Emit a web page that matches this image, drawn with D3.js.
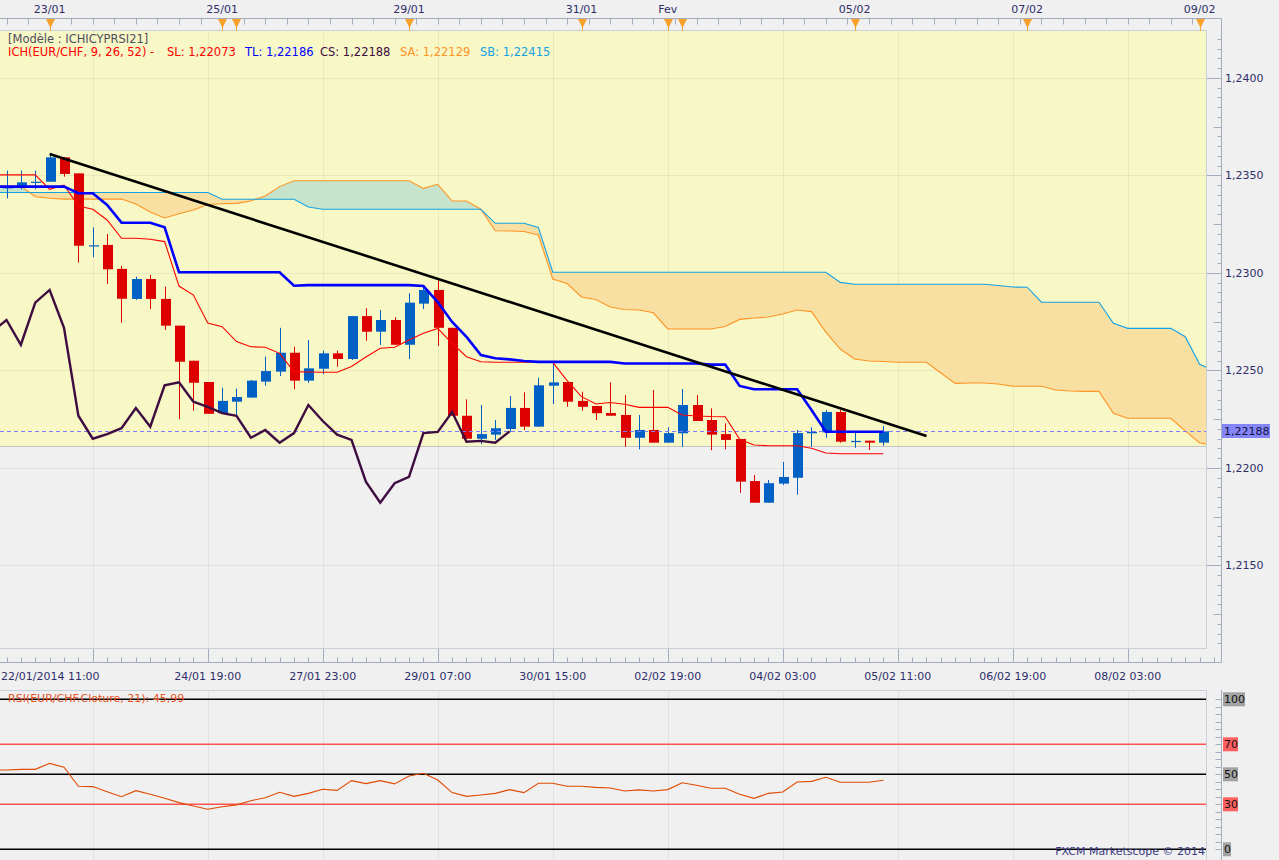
<!DOCTYPE html>
<meta charset="utf-8">
<style>
  body { margin: 0; background: #f0f0f0; overflow: hidden; }
  svg text { font-family: "DejaVu Sans", Verdana, sans-serif; }
</style>
<body>
<script src="https://d3js.org/d3.v7.min.js"></script>
<div id="chart"></div>
<script>

// EUR/CHF, 4 hour bars. bar 0 = 22/01/2014 11:00, bar 61 = 05/02 07:00
var opens  = [1.23437, 1.23443, 1.23466, 1.23468, 1.23593, 1.23511, 1.23140, 1.23144, 1.23021, 1.22867,
              1.22969, 1.22867, 1.22730, 1.22550, 1.22441, 1.22281, 1.22340, 1.22361, 1.22443, 1.22494,
              1.22591, 1.22448, 1.22509, 1.22588, 1.22559, 1.22779, 1.22699, 1.22759, 1.22632, 1.22843,
              1.22913, 1.22719, 1.22268, 1.22150, 1.22171, 1.22200, 1.22308, 1.22212, 1.22422, 1.22441,
              1.22344, 1.22318, 1.22282, 1.22272, 1.22155, 1.22195, 1.22130, 1.22178, 1.22323, 1.22246,
              1.22174, 1.22149, 1.21933, 1.21822, 1.21920, 1.21950, 1.22178, 1.22183, 1.22287, 1.22137,
              1.22140, 1.22130];
var highs  = [1.23525, 1.23525, 1.23525, 1.23610, 1.23593, 1.23511, 1.23234, 1.23200, 1.23036, 1.22981,
              1.22990, 1.22930, 1.22730, 1.22550, 1.22441, 1.22412, 1.22407, 1.22451, 1.22571, 1.22719,
              1.22622, 1.22656, 1.22602, 1.22602, 1.22779, 1.22819, 1.22810, 1.22773, 1.22896, 1.22933,
              1.22968, 1.22719, 1.22352, 1.22323, 1.22246, 1.22369, 1.22388, 1.22463, 1.22545, 1.22441,
              1.22391, 1.22318, 1.22439, 1.22374, 1.22272, 1.22400, 1.22209, 1.22405, 1.22374, 1.22306,
              1.22229, 1.22149, 1.21964, 1.21938, 1.22031, 1.22195, 1.22209, 1.22297, 1.22297, 1.22190,
              1.22140, 1.22215];
var lows   = [1.23383, 1.23429, 1.23429, 1.23468, 1.23494, 1.23053, 1.23081, 1.22944, 1.22745, 1.22862,
              1.22815, 1.22708, 1.22250, 1.22294, 1.22278, 1.22281, 1.22272, 1.22361, 1.22422, 1.22472,
              1.22404, 1.22436, 1.22481, 1.22519, 1.22554, 1.22653, 1.22631, 1.22632, 1.22559, 1.22815,
              1.22626, 1.22268, 1.22150, 1.22122, 1.22144, 1.22186, 1.22195, 1.22212, 1.22328, 1.22314,
              1.22294, 1.22246, 1.22268, 1.22109, 1.22096, 1.22130, 1.22130, 1.22109, 1.22241, 1.22091,
              1.22096, 1.21873, 1.21822, 1.21822, 1.21913, 1.21863, 1.22109, 1.22155, 1.22130, 1.22104,
              1.22092, 1.22114];
var closes = [1.23440, 1.23465, 1.23468, 1.23593, 1.23508, 1.23140, 1.23142, 1.23019, 1.22868, 1.22969,
              1.22867, 1.22730, 1.22545, 1.22437, 1.22278, 1.22344, 1.22364, 1.22448, 1.22497, 1.22591,
              1.22448, 1.22511, 1.22588, 1.22559, 1.22779, 1.22699, 1.22759, 1.22632, 1.22848, 1.22913,
              1.22719, 1.22268, 1.22150, 1.22174, 1.22204, 1.22308, 1.22212, 1.22424, 1.22439, 1.22340,
              1.22314, 1.22281, 1.22268, 1.22155, 1.22195, 1.22130, 1.22179, 1.22323, 1.22241, 1.22171,
              1.22144, 1.21930, 1.21822, 1.21922, 1.21954, 1.22179, 1.22185, 1.22287, 1.22135, 1.22139,
              1.22130, 1.22188];

// Ichimoku lines, one value per bar
var slValues = [1.23503, 1.23503, 1.23503, 1.23429, 1.23451, 1.23344, 1.23327, 1.23272, 1.23178, 1.23178,
                1.23173, 1.23161, 1.22933, 1.22887, 1.22744, 1.22725, 1.22648, 1.22622, 1.22619, 1.22588,
                1.22494, 1.22492, 1.22491, 1.22491, 1.22521, 1.22569, 1.22614, 1.22619, 1.22656, 1.22691,
                1.22716, 1.22639, 1.22571, 1.22545, 1.22542, 1.22542, 1.22542, 1.22542, 1.22542, 1.22448,
                1.22366, 1.22328, 1.22336, 1.22327, 1.22311, 1.22311, 1.22311, 1.22272, 1.22267, 1.22264,
                1.22263, 1.22147, 1.22118, 1.22114, 1.22114, 1.22114, 1.22101, 1.22077, 1.22073, 1.22073,
                1.22073, 1.22073];
var tlValues = [1.23443, 1.23443, 1.23443, 1.23443, 1.23443, 1.23409, 1.23409, 1.23349, 1.23258, 1.23258,
                1.23258, 1.23234, 1.23004, 1.23004, 1.23004, 1.23004, 1.23004, 1.23004, 1.23004, 1.23004,
                1.22935, 1.22938, 1.22938, 1.22938, 1.22938, 1.22938, 1.22938, 1.22938, 1.22938, 1.22933,
                1.22851, 1.22749, 1.22672, 1.22579, 1.22563, 1.22557, 1.22549, 1.22544, 1.22544, 1.22544,
                1.22544, 1.22544, 1.22544, 1.22536, 1.22536, 1.22536, 1.22536, 1.22536, 1.22536, 1.22530,
                1.22530, 1.22421, 1.22404, 1.22404, 1.22404, 1.22404, 1.22297, 1.22186, 1.22186, 1.22186,
                1.22186, 1.22186];
// senkou spans are plotted 26 bars ahead, so they run past the last bar
var saValues = [1.23446, 1.23446, 1.23391, 1.23383, 1.23379, 1.23379, 1.23379, 1.23379, 1.23379, 1.23354,
                1.23313, 1.23282, 1.23304, 1.23323, 1.23351, 1.23355, 1.23357, 1.23369, 1.23395, 1.23443,
                1.23473, 1.23473, 1.23473, 1.23473, 1.23473, 1.23473, 1.23473, 1.23473, 1.23473, 1.23434,
                1.23455, 1.23369, 1.23369, 1.23327, 1.23217, 1.23215, 1.23213, 1.23195, 1.22969, 1.22946,
                1.22877, 1.22864, 1.22826, 1.22813, 1.22810, 1.22796, 1.22713, 1.22713, 1.22713, 1.22713,
                1.22726, 1.22762, 1.22769, 1.22774, 1.22790, 1.22810, 1.22802, 1.22697, 1.22610, 1.22559,
                1.22549, 1.22546, 1.22542, 1.22542, 1.22542, 1.22487, 1.22434, 1.22436, 1.22436, 1.22431,
                1.22419, 1.22419, 1.22419, 1.22400, 1.22395, 1.22393, 1.22393, 1.22281, 1.22255, 1.22255,
                1.22255, 1.22255, 1.22190, 1.22128, 1.22118];
var sbValues = [1.23413, 1.23413, 1.23413, 1.23413, 1.23413, 1.23413, 1.23413, 1.23413, 1.23413, 1.23413,
                1.23413, 1.23413, 1.23413, 1.23413, 1.23413, 1.23378, 1.23378, 1.23378, 1.23378, 1.23378,
                1.23378, 1.23338, 1.23327, 1.23327, 1.23327, 1.23327, 1.23327, 1.23327, 1.23327, 1.23327,
                1.23327, 1.23327, 1.23327, 1.23327, 1.23255, 1.23255, 1.23255, 1.23233, 1.23004, 1.23004,
                1.23004, 1.23004, 1.23004, 1.23004, 1.23004, 1.23004, 1.23004, 1.23004, 1.23004, 1.23004,
                1.23004, 1.23004, 1.23004, 1.23004, 1.23004, 1.23004, 1.23004, 1.23004, 1.22952, 1.22942,
                1.22942, 1.22942, 1.22942, 1.22942, 1.22942, 1.22942, 1.22942, 1.22942, 1.22942, 1.22936,
                1.22928, 1.22927, 1.22850, 1.22850, 1.22850, 1.22850, 1.22850, 1.22742, 1.22716, 1.22716,
                1.22716, 1.22716, 1.22673, 1.22532, 1.22500];
// chikou span = close drawn 26 bars back
var csShift = 26;

var rsiValues = [52.9, 53.3, 53.3, 57.3, 54.7, 42.0, 41.8, 38.4, 35.1, 39.1,
                 36.7, 34.0, 31.1, 28.9, 26.7, 28.4, 29.6, 32.4, 34.4, 38.0,
                 35.3, 37.3, 40.0, 39.3, 45.8, 43.8, 45.8, 43.6, 48.9, 50.7,
                 46.2, 37.8, 35.3, 36.2, 37.3, 39.8, 37.8, 44.0, 44.0, 42.0,
                 42.0, 41.3, 40.9, 38.9, 39.6, 38.9, 39.8, 44.4, 42.7, 40.7,
                 40.7, 36.7, 34.0, 37.3, 38.2, 44.9, 45.3, 48.0, 44.7, 44.7,
                 44.7, 45.99];

// hand drawn trend line (bar index, price)
var trendIdx = [3, 64];
var trendPrice = [1.23610, 1.22164];

// calendar axis on top
var topDates = ["23/01", "25/01", "29/01", "31/01", "Fev", "05/02", "07/02", "09/02"];
var topDateIdx = [3, 15, 28, 40, 46, 59, 71, 83];
var eventIdx = [3, 15, 16, 28, 40, 46, 47, 59, 71, 83];

// time axis under the price panel
var timeLabels = ["22/01/2014 11:00", "24/01 19:00", "27/01 23:00", "29/01 07:00", "30/01 15:00",
                  "02/02 19:00", "04/02 03:00", "05/02 11:00", "06/02 19:00", "08/02 03:00"];
var timeLabelIdx = [0, 14, 22, 30, 38, 46, 54, 62, 70, 78];

var priceTicks = [1.2150, 1.2200, 1.2250, 1.2300, 1.2350, 1.2400];
var rsiLevels = [100, 70, 50, 30, 0];

var legendNames = ["SL", "TL", "CS", "SA", "SB"];
var legendValues = [1.22073, 1.22186, 1.22188, 1.22129, 1.22415];
var rsiLast = 45.99;
var bandFloor = 1.22113;

// ---------------------------------------------------------------

var width = 1279, height = 860;
var plotRight = 1206, plotTop = 31, plotBottom = 648;
var axisLine = 1221.5;
var topAxisY = 18.5, timeAxisY = 662.5;
var rsiTop = 690;
var navy = "#2e2e6a";
var tickColor = "#a4adbd";
var blue = "#0060c4", red = "#dc0000";

var x = d3.scaleLinear().domain([0, 84]).range([6.5, 6.5 + 84 * 14.375]);
var y = d3.scaleLinear().domain([1.22, 1.24]).range([468, 78]);
var yRsi = d3.scaleLinear().domain([0, 100]).range([849.3, 699.3]);

var f4 = d3.format(".4f"), f5 = d3.format(".5f"), f2 = d3.format(".2f");
function comma(s) { return s.replace(".", ","); }
function crisp(v) { return Math.round(v) + 0.5; }

var svg = d3.select("#chart")
  .append("svg")
    .attr("width", width)
    .attr("height", height);

svg.append("rect")
    .attr("width", width)
    .attr("height", height)
    .attr("fill", "#f0f0f0");

var defs = svg.append("defs");
defs.append("clipPath").attr("id", "plotClip")
  .append("rect")
    .attr("x", 0).attr("y", plotTop)
    .attr("width", plotRight).attr("height", plotBottom - plotTop);
defs.append("clipPath").attr("id", "rsiClip")
  .append("rect")
    .attr("x", 0).attr("y", rsiTop)
    .attr("width", plotRight).attr("height", height - rsiTop);

var main = svg.append("g").attr("clip-path", "url(#plotClip)");

// yellow band
main.append("rect")
    .attr("x", 0)
    .attr("y", plotTop)
    .attr("width", plotRight)
    .attr("height", y(bandFloor) - plotTop)
    .attr("fill", "#f8f7c6");
main.append("line")
    .attr("x1", 0).attr("x2", plotRight)
    .attr("y1", crisp(y(bandFloor))).attr("y2", crisp(y(bandFloor)))
    .attr("stroke", "#c4c4c4");

// grid
var gridIdx = d3.range(6, 85, 8);
main.selectAll(".vgrid")
  .data(gridIdx)
  .enter().append("line")
    .attr("x1", function(d) { return crisp(x(d)); })
    .attr("x2", function(d) { return crisp(x(d)); })
    .attr("y1", plotTop).attr("y2", plotBottom)
    .attr("stroke", "#000").attr("stroke-opacity", 0.055);
main.selectAll(".hgrid")
  .data(priceTicks)
  .enter().append("line")
    .attr("x1", 0).attr("x2", plotRight)
    .attr("y1", function(d) { return crisp(y(d)); })
    .attr("y2", function(d) { return crisp(y(d)); })
    .attr("stroke", "#000").attr("stroke-opacity", 0.055);

// cloud between SA and SB, orange when SA is under SB, green otherwise
var cloud = [{i: -1, a: saValues[0], b: sbValues[0]}].concat(saValues.map(function(v, i) {
  return {i: i, a: v, b: sbValues[i]};
}));
defs.append("clipPath").attr("id", "aboveA")
  .append("path")
    .attr("d", d3.area().x(function(d) { return x(d.i); }).y0(0).y1(function(d) { return y(d.a); })(cloud));
defs.append("clipPath").attr("id", "belowA")
  .append("path")
    .attr("d", d3.area().x(function(d) { return x(d.i); }).y0(function(d) { return y(d.a); }).y1(height)(cloud));

var between = d3.area()
    .x(function(d) { return x(d.i); })
    .y0(function(d) { return y(d.a); })
    .y1(function(d) { return y(d.b); });

main.append("g").attr("clip-path", "url(#aboveA)")
  .append("path").attr("d", between(cloud)).attr("fill", "#f8dfa2");
main.append("g").attr("clip-path", "url(#belowA)")
  .append("path").attr("d", between(cloud)).attr("fill", "#c6e4cb");

var spanLine = function(key) {
  return d3.line().x(function(d) { return x(d.i); }).y(function(d) { return y(d[key]); });
};
main.append("path").attr("d", spanLine("a")(cloud))
    .attr("fill", "none").attr("stroke", "#ff9424").attr("stroke-width", 1.1);
main.append("path").attr("d", spanLine("b")(cloud))
    .attr("fill", "none").attr("stroke", "#13a2e4").attr("stroke-width", 1.1);

// candles
var bars = d3.range(closes.length);
var candle = main.selectAll(".candle")
  .data(bars)
  .enter().append("g")
    .attr("class", "candle");

candle.append("line")
    .attr("x1", function(d) { return Math.round(x(d)) + 0.5; })
    .attr("x2", function(d) { return Math.round(x(d)) + 0.5; })
    .attr("y1", function(d) { return y(highs[d]); })
    .attr("y2", function(d) { return y(lows[d]); })
    .attr("stroke", function(d) { return closes[d] >= opens[d] ? blue : red; });

candle.append("rect")
    .attr("x", function(d) { return Math.round(x(d)) - 4; })
    .attr("width", 10)
    .attr("y", function(d) { return y(Math.max(opens[d], closes[d])); })
    .attr("height", function(d) { return Math.max(1.2, Math.abs(y(opens[d]) - y(closes[d]))); })
    .attr("fill", function(d) { return closes[d] >= opens[d] ? blue : red; });

// current price
main.append("line")
    .attr("x1", 0).attr("x2", plotRight)
    .attr("y1", crisp(y(closes[closes.length - 1])))
    .attr("y2", crisp(y(closes[closes.length - 1])))
    .attr("stroke", "#7b7bff")
    .attr("stroke-dasharray", "4,3");

// chikou span
var csIdx = d3.range(-1, closes.length - csShift);
main.append("path")
    .attr("d", d3.line()
      .x(function(d) { return x(d); })
      .y(function(d) { return y(closes[d + csShift]); })(csIdx))
    .attr("fill", "none")
    .attr("stroke", "#3e0c40")
    .attr("stroke-width", 2.4);

var barLine = function(values) {
  var pts = [{i: -1, v: values[0]}].concat(values.map(function(v, i) { return {i: i, v: v}; }));
  return d3.line().x(function(d) { return x(d.i); }).y(function(d) { return y(d.v); })(pts);
};
main.append("path").attr("d", barLine(slValues))
    .attr("fill", "none").attr("stroke", "#ff0000").attr("stroke-width", 1.1);
main.append("path").attr("d", barLine(tlValues))
    .attr("fill", "none").attr("stroke", "#0000ff").attr("stroke-width", 2.6);

// trend line
main.append("line")
    .attr("x1", x(trendIdx[0])).attr("y1", y(trendPrice[0]))
    .attr("x2", x(trendIdx[1])).attr("y2", y(trendPrice[1]))
    .attr("stroke", "#000").attr("stroke-width", 2.6);

// panel frame
svg.append("rect")
    .attr("x", -1).attr("y", plotTop - 0.5)
    .attr("width", plotRight + 1.5).attr("height", plotBottom - plotTop + 1)
    .attr("fill", "none").attr("stroke", "#c9d0da");

// legend
svg.append("text")
    .attr("x", 8).attr("y", 39).attr("dy", "0.35em")
    .style("font-size", "11.5px").attr("fill", "#4e4e5e")
    .text("[Modèle : ICHICYPRSI21]");
svg.append("text")
    .attr("x", 8).attr("y", 52).attr("dy", "0.35em")
    .style("font-size", "11.5px").attr("fill", "#ff0000")
    .text("ICH(EUR/CHF, 9, 26, 52) -");
var legendX = [167, 245, 320, 400, 480];
var legendColors = ["#ff0000", "#0000ff", "#3e0c40", "#ff9424", "#13a2e4"];
svg.selectAll(".legend")
  .data(legendNames)
  .enter().append("text")
    .attr("x", function(d, i) { return legendX[i]; })
    .attr("y", 52).attr("dy", "0.35em")
    .style("font-size", "11.5px")
    .attr("fill", function(d, i) { return legendColors[i]; })
    .text(function(d, i) { return d + ": " + comma(f5(legendValues[i])); });

// top calendar axis
svg.append("line")
    .attr("x1", 0).attr("x2", axisLine)
    .attr("y1", topAxisY).attr("y2", topAxisY)
    .attr("stroke", tickColor);
svg.selectAll(".ttick")
  .data(d3.range(0, 84, 1.5))
  .enter().append("line")
    .attr("x1", function(d) { return crisp(x(d)); })
    .attr("x2", function(d) { return crisp(x(d)); })
    .attr("y1", topAxisY).attr("y2", topAxisY + 6)
    .attr("stroke", tickColor);
svg.selectAll(".tdate")
  .data(topDates)
  .enter().append("text")
    .attr("x", function(d, i) { return x(topDateIdx[i]); })
    .attr("y", 9.5).attr("dy", "0.35em")
    .attr("text-anchor", "middle")
    .style("font-size", "11px")
    .attr("fill", navy)
    .text(function(d) { return d; });
var ev = svg.selectAll(".event")
  .data(eventIdx)
  .enter().append("g")
    .attr("transform", function(d) { return "translate(" + crisp(x(d)) + ",0)"; });
ev.append("line")
    .attr("y1", 24).attr("y2", plotTop)
    .attr("stroke", "#f7a12a");
ev.append("path")
    .attr("d", "M-4.5,19L4.5,19L0,28Z")
    .attr("fill", "#f7a12a");

// right price axis
svg.append("line")
    .attr("x1", axisLine).attr("x2", axisLine)
    .attr("y1", topAxisY).attr("y2", timeAxisY)
    .attr("stroke", tickColor);
svg.selectAll(".ptick")
  .data(d3.range(0, 63))
  .enter().append("line")
    .attr("x1", function(k) { return k % 10 == 8 ? plotRight + 1 : (k % 5 == 3 ? axisLine - 8 : axisLine - 4); })
    .attr("x2", axisLine)
    .attr("y1", function(k) { return crisp(y(1.2110 + k * 0.0005)); })
    .attr("y2", function(k) { return crisp(y(1.2110 + k * 0.0005)); })
    .attr("stroke", tickColor);
svg.selectAll(".plabel")
  .data(priceTicks)
  .enter().append("text")
    .attr("x", 1225)
    .attr("y", function(d) { return y(d); }).attr("dy", "0.35em")
    .style("font-size", "11px")
    .attr("fill", navy)
    .text(function(d) { return comma(f4(d)); });

var lastY = y(closes[closes.length - 1]);
svg.append("rect")
    .attr("x", axisLine + 0.5).attr("y", Math.round(lastY) - 7)
    .attr("width", 48).attr("height", 14)
    .attr("fill", "#8585fa");
svg.append("text")
    .attr("x", 1224).attr("y", lastY).attr("dy", "0.35em")
    .style("font-size", "11px")
    .attr("fill", "#14143c")
    .text(comma(f5(closes[closes.length - 1])));

// bottom time axis
svg.append("line")
    .attr("x1", 0).attr("x2", axisLine)
    .attr("y1", timeAxisY).attr("y2", timeAxisY)
    .attr("stroke", tickColor);
svg.selectAll(".btick")
  .data(d3.range(0, 85))
  .enter().append("line")
    .attr("x1", function(d) { return crisp(x(d)); })
    .attr("x2", function(d) { return crisp(x(d)); })
    .attr("y1", function(d) { return d % 8 == 6 ? plotBottom + 1 : timeAxisY - 5; })
    .attr("y2", timeAxisY)
    .attr("stroke", tickColor);
svg.selectAll(".blabel")
  .data(timeLabels)
  .enter().append("text")
    .attr("x", function(d, i) { return i == 0 ? 1 : x(timeLabelIdx[i]); })
    .attr("y", 676).attr("dy", "0.35em")
    .attr("text-anchor", function(d, i) { return i == 0 ? "start" : "middle"; })
    .style("font-size", "11px")
    .attr("fill", navy)
    .text(function(d) { return d; });

// RSI panel
var rsiG = svg.append("g").attr("clip-path", "url(#rsiClip)");
rsiG.selectAll(".rgrid")
  .data(gridIdx)
  .enter().append("line")
    .attr("x1", function(d) { return crisp(x(d)); })
    .attr("x2", function(d) { return crisp(x(d)); })
    .attr("y1", rsiTop).attr("y2", height)
    .attr("stroke", "#000").attr("stroke-opacity", 0.06);
rsiG.selectAll(".level")
  .data(rsiLevels)
  .enter().append("line")
    .attr("x1", 0).attr("x2", plotRight)
    .attr("y1", function(d) { return yRsi(d); })
    .attr("y2", function(d) { return yRsi(d); })
    .attr("stroke", function(d) { return d == 70 || d == 30 ? "#ff5252" : "#000"; })
    .attr("stroke-width", 1.4);

var rsiPts = [{i: -1, v: rsiValues[0]}].concat(rsiValues.map(function(v, i) { return {i: i, v: v}; }));
rsiG.append("path")
    .attr("d", d3.line().x(function(d) { return x(d.i); }).y(function(d) { return yRsi(d.v); })(rsiPts))
    .attr("fill", "none")
    .attr("stroke", "#e04a00")
    .attr("stroke-width", 1.1);

svg.append("line")
    .attr("x1", 0).attr("x2", plotRight)
    .attr("y1", rsiTop + 0.5).attr("y2", rsiTop + 0.5)
    .attr("stroke", "#c9d0da");
svg.append("line")
    .attr("x1", plotRight + 0.5).attr("x2", plotRight + 0.5)
    .attr("y1", rsiTop).attr("y2", height)
    .attr("stroke", "#c9d0da");

svg.append("text")
    .attr("x", 8).attr("y", 698).attr("dy", "0.35em")
    .style("font-size", "11px")
    .attr("fill", "#e8521e")
    .text("RSI(EUR/CHF.Cloture, 21): " + comma(f2(rsiLast)));

svg.append("line")
    .attr("x1", axisLine).attr("x2", axisLine)
    .attr("y1", rsiTop).attr("y2", height)
    .attr("stroke", tickColor);
svg.selectAll(".rtick")
  .data(d3.range(0, 101, 5))
  .enter().append("line")
    .attr("x1", axisLine - 6).attr("x2", axisLine)
    .attr("y1", function(d) { return crisp(yRsi(d)); })
    .attr("y2", function(d) { return crisp(yRsi(d)); })
    .attr("stroke", tickColor);

var rsiLab = svg.selectAll(".rlabel")
  .data(rsiLevels)
  .enter().append("g")
    .attr("transform", function(d) { return "translate(" + (axisLine + 1.5) + "," + yRsi(d) + ")"; });
rsiLab.append("rect")
    .attr("x", 0).attr("y", -7)
    .attr("width", function(d) { return String(d).length * 7 + 1; })
    .attr("height", 14)
    .attr("fill", function(d) { return d == 70 || d == 30 ? "#ff6060" : "#a3a3a3"; });
rsiLab.append("text")
    .attr("x", 1).attr("dy", "0.35em")
    .style("font-size", "11px")
    .attr("fill", "#111")
    .text(function(d) { return d; });

svg.append("text")
    .attr("x", 1205).attr("y", 851).attr("dy", "0.35em")
    .attr("text-anchor", "end")
    .style("font-size", "11px")
    .attr("fill", "#3a3a84")
    .text("FXCM Marketscope © 2014");

</script>
</body>
